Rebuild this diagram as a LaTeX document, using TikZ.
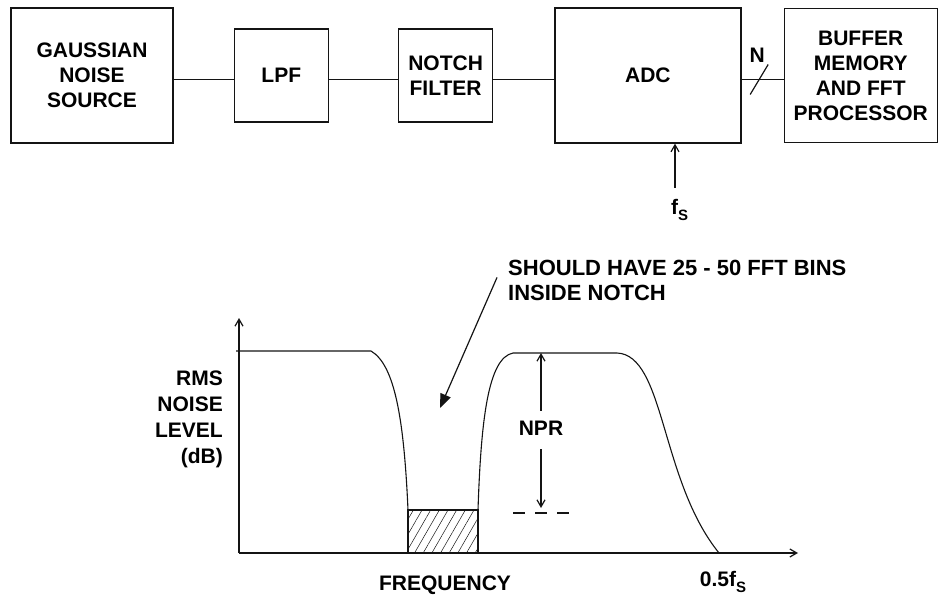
\documentclass[tikz,border=0pt]{standalone}
\usepackage{fontspec}
\setmainfont{Liberation Sans}
\usepackage{xcolor}
\definecolor{ink}{HTML}{141414}
\usepackage{tikz}
\usetikzlibrary{arrows.meta, positioning, calc, patterns.meta}

\newcommand{\fsamp}{f\raisebox{-6pt}{\fontsize{15}{15}\selectfont S}}

\begin{document}
\begin{tikzpicture}[x=1pt, y=-1pt, >={Straight Barb[length=7pt,width=8pt]},
  block/.style={draw=ink, line width=1.3pt, inner sep=0pt, align=center,
                font=\fontsize{21}{25}\selectfont\bfseries},
  lbl/.style={font=\fontsize{21}{25}\selectfont\bfseries, inner sep=0pt},
  wire/.style={draw=ink, line width=1.2pt},
  curve/.style={draw=ink, line width=1.1pt}]

  \useasboundingbox (0,0) rectangle (940,596);

  % signal chain
  \node[block, minimum width=162pt, minimum height=135pt] (gauss) at (92,75.5)
        {GAUSSIAN\\NOISE\\SOURCE};
  \node[block, minimum width=94pt, minimum height=93pt, right=60pt of gauss] (lpf)
        {LPF};
  \node[block, minimum width=94pt, minimum height=93pt, right=69pt of lpf] (notch)
        {NOTCH\\FILTER};
  \node[block, minimum width=186pt, minimum height=135pt, right=61pt of notch] (adc)
        {ADC};
  \node[block, minimum width=153pt, minimum height=134pt, right=42pt of adc] (buf)
        {BUFFER\\MEMORY\\AND FFT\\PROCESSOR};

  \draw[wire] ([yshift=-4pt]gauss.east) -- ([yshift=-4pt]lpf.west);
  \draw[wire] ([yshift=-4pt]lpf.east) -- ([yshift=-4pt]notch.west);
  \draw[wire] ([yshift=-4pt]notch.east) -- ([yshift=-4pt]adc.west);
  \draw[wire] ([yshift=-4pt]adc.east) -- coordinate[pos=0.42] (bus) ([yshift=-4pt]buf.west);
  \draw[wire] ($(bus)+(-9,15)$) -- ($(bus)+(9,-15)$);
  \node[lbl] (nbits) at ($(bus)+(-2,-24)$) {N};

  % sample clock
  \node[lbl, anchor=north west] (fs) at (671,199) {\fsamp};
  \coordinate (clk) at ([xshift=4pt,yshift=11pt]fs.north west);
  \draw[wire,->] (clk) -- (clk |- adc.south);

  % spectrum
  \coordinate (orig) at (239,553);
  \coordinate (ytop) at (239,318);
  \coordinate (xend) at (798,553);
  \draw[wire,->] (orig) -- (ytop);
  \draw[wire,->] (orig) -- (xend);

  \draw[curve] (236,351) -- (371,351) .. controls (395,365) and (404,420) .. (408,510);
  \draw[curve] (478,510) .. controls (481,420) and (488,358) .. (513,353) -- (617,353)
        .. controls (665,355) and (660,480) .. (719,553);
  \draw[curve, pattern={Lines[angle=60,distance=7.5pt,line width=0.5pt]}, pattern color=ink]
        (408,510) rectangle (478,553);

  % noise power ratio
  \coordinate (rtop) at (541,353);
  \coordinate (nfloor) at (543,513);
  \node[lbl] (npr) at (541,428) {NPR};
  \draw[wire,->] ([yshift=10pt]npr.north) -- (rtop);
  \draw[wire,->] ([yshift=-14pt]npr.south) -- ([yshift=5pt]npr.south |- nfloor);
  \draw[ink, line width=1.7pt, dash pattern=on 12pt off 10pt] (513,513) -- (573,513);

  % note on the notch
  \node[lbl, align=left, anchor=north west, font=\fontsize{22}{25}\selectfont\bfseries] (note)
        at (508,260) {SHOULD HAVE 25 - 50 FFT BINS\\INSIDE NOTCH};
  \coordinate (ntip) at (440,408);
  \draw[wire, -{Triangle[length=14pt,width=11pt]}] ([xshift=-11pt,yshift=3pt]note.west) -- (ntip);

  % axis labels
  \node[lbl, align=right, anchor=east, font=\fontsize{21}{26}\selectfont\bfseries] (yname)
        at (223,419) {RMS\\NOISE\\LEVEL\\(dB)};
  \node[lbl] (xname) at (445,585) {FREQUENCY};
  \node[lbl] (fhalf) at (723,582) {0.5\fsamp};

\end{tikzpicture}
\end{document}
